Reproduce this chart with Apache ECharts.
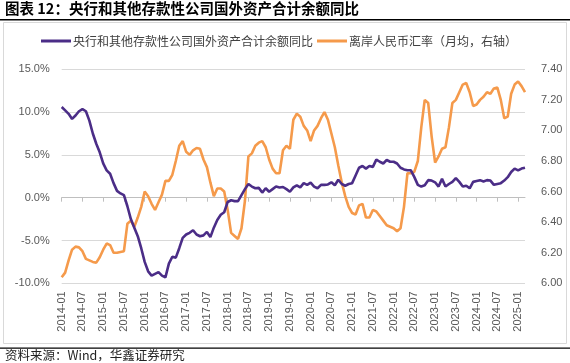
<!DOCTYPE html>
<html>
<head>
<meta charset="utf-8">
<script src="https://cdn.jsdelivr.net/npm/echarts@6/dist/echarts.min.js"></script>
<style>
html,body{margin:0;padding:0;background:#fff;}
#c{width:570px;height:363px;}
</style>
</head>
<body>
<div id="c"></div>
<script>
// Monthly categories 2014-01 .. 2025-03
const categories = [];
for (let y = 2014; y <= 2025; y++) {
  for (let m = 1; m <= 12; m++) {
    if (y === 2025 && m > 3) break;
    categories.push(y + '-' + (m < 10 ? '0' + m : m));
  }
}

// 央行和其他存款性公司国外资产合计余额同比 (%)
const assetsYoY = [
  10.6, 10.2, 9.8, 9.2, 9.6, 10.1, 10.35, 10.1, 9.0, 7.5, 6.3, 5.3,
  4.0, 3.2, 2.8, 1.7, 0.8, 0.5, 0.3, -1.0, -2.5, -3.5, -4.5, -5.9,
  -7.5, -8.6, -9.1, -8.9, -8.7, -9.1, -9.3, -7.7, -6.9, -7.0, -5.9, -4.7,
  -4.3, -4.1, -3.8, -4.3, -4.5, -4.4, -4.0, -4.6, -3.5, -2.6, -2.0, -1.7,
  -0.5, -0.3, -0.4, -0.4, 0.3, 1.0, 1.6, 1.3, 1.1, 1.15, 0.6, 1.1,
  0.7, 1.0, 1.3, 1.2, 1.25, 1.0, 0.7, 1.2, 1.45, 1.2, 1.7, 1.5,
  1.75, 1.3, 1.1, 1.5, 1.5, 1.55, 1.8, 1.45, 2.1, 1.6, 1.4, 1.6,
  1.7, 2.6, 3.5, 3.7, 3.4, 3.7, 3.6, 4.45, 4.2, 4.0, 4.4, 4.2,
  4.2, 4.0, 3.5, 3.3, 3.2, 3.2, 2.4, 1.5, 1.3, 1.45, 2.05, 2.0,
  1.8, 1.3, 2.2, 1.3, 1.6, 1.85, 2.3, 1.85, 1.3, 1.4, 1.1, 1.85,
  1.95, 2.05, 1.9, 2.05, 2.0, 1.5, 1.6, 1.7, 2.0, 2.4, 3.0, 3.4,
  3.2, 3.4, 3.5
];

// 离岸人民币汇率（月均）
const cnhRate = [
  6.04, 6.07, 6.15, 6.22, 6.24, 6.235, 6.21, 6.16, 6.15, 6.14, 6.135, 6.17,
  6.22, 6.26, 6.25, 6.20, 6.20, 6.205, 6.21, 6.39, 6.41, 6.37, 6.43, 6.50,
  6.60, 6.57, 6.52, 6.48, 6.53, 6.58, 6.67, 6.67, 6.71, 6.80, 6.90, 6.93,
  6.86, 6.84, 6.87, 6.885, 6.88, 6.81, 6.76, 6.66, 6.57, 6.62, 6.62, 6.60,
  6.48, 6.33, 6.31, 6.29, 6.36, 6.54, 6.83, 6.85, 6.90, 6.92, 6.93, 6.89,
  6.81, 6.75, 6.72, 6.72, 6.87, 6.90, 6.88, 7.07, 7.11, 7.09, 7.03, 7.00,
  6.93, 7.00, 7.03, 7.08, 7.12, 7.07, 6.98, 6.89, 6.77, 6.66, 6.57, 6.50,
  6.46, 6.45, 6.51, 6.52, 6.43, 6.43, 6.48, 6.47, 6.44, 6.41, 6.38, 6.37,
  6.36, 6.34, 6.36, 6.50, 6.72, 6.72, 6.73, 6.80, 7.02, 7.20, 7.18, 6.96,
  6.79, 6.83, 6.88, 6.89, 7.02, 7.18, 7.20, 7.25, 7.30, 7.31, 7.25, 7.16,
  7.17, 7.20, 7.22, 7.25, 7.24, 7.275, 7.28, 7.20, 7.08, 7.09, 7.24, 7.30,
  7.32, 7.29, 7.25
];

const seriesNames = ['央行和其他存款性公司国外资产合计余额同比', '离岸人民币汇率（月均，右轴）'];
const leftTicks = { min: -10, max: 15, interval: 5 };
const rightTicks = { min: 6.0, max: 7.4, interval: 0.2 };

const chart = echarts.init(document.getElementById('c'), null, { renderer: 'canvas' });
const labelFont = 'Liberation Sans, Arial, sans-serif';
const cjkFont = '"Noto Sans CJK SC", sans-serif';

chart.setOption({
  animation: false,
  backgroundColor: '#ffffff',
  graphic: [
    { type: 'text', left: 5, top: 1, style: { text: '图表 12：央行和其他存款性公司国外资产合计余额同比', font: 'bold 14.5px ' + cjkFont, fill: '#000' } },
    { type: 'rect', shape: { x: 0, y: 19, width: 570, height: 1.6 }, style: { fill: '#000' } },
    { type: 'rect', shape: { x: 3.5, y: 22.5, width: 563, height: 321 }, style: { fill: 'none', stroke: '#D9D9D9', lineWidth: 1 } },
    { type: 'rect', shape: { x: 0, y: 347.5, width: 570, height: 1.3 }, style: { fill: '#000' } },
    { type: 'text', left: 5, top: 349, style: { text: '资料来源：Wind，华鑫证券研究', font: '12.5px ' + cjkFont, fill: '#222' } }
  ],
  legend: {
    top: 30, left: 36,
    itemWidth: 30, itemHeight: 3, itemGap: 4,
    icon: 'rect',
    textStyle: { fontSize: 12, fontFamily: cjkFont, color: '#404040', padding: [0, 0, 0, -3] },
    data: seriesNames
  },
  grid: { left: 61.7, right: 45, top: 69.3, bottom: 79.7, containLabel: false },
  xAxis: [
    {
      type: 'category', data: categories, boundaryGap: false, position: 'bottom',
      axisLine: { show: false, onZero: false }, axisTick: { show: false },
      axisLabel: { interval: 5, rotate: 90, fontSize: 11, fontFamily: labelFont, color: '#595959', margin: 8 },
      splitLine: { show: false }
    },
    {
      type: 'category', data: categories, boundaryGap: false, position: 'bottom',
      axisLine: { show: true, onZero: true, onZeroAxisIndex: 0, lineStyle: { color: '#BFBFBF', width: 1 } },
      axisTick: { show: true, interval: 5, length: 4, inside: false, lineStyle: { color: '#BFBFBF' } },
      axisLabel: { show: false }, splitLine: { show: false }
    }
  ],
  yAxis: [
    {
      type: 'value', min: leftTicks.min, max: leftTicks.max, interval: leftTicks.interval,
      axisLine: { show: false }, axisTick: { show: false },
      axisLabel: { formatter: v => v.toFixed(1) + '%', fontSize: 11, fontFamily: labelFont, color: '#595959', margin: 12 },
      splitLine: { show: true, lineStyle: { color: '#D9D9D9', width: 1 } }
    },
    {
      type: 'value', min: rightTicks.min, max: rightTicks.max, interval: rightTicks.interval,
      axisLine: { show: false }, axisTick: { show: false },
      axisLabel: { formatter: v => v.toFixed(2), fontSize: 11, fontFamily: labelFont, color: '#595959', margin: 16 },
      splitLine: { show: false }
    }
  ],
  series: [
    {
      name: seriesNames[0], type: 'line', data: assetsYoY, xAxisIndex: 0, yAxisIndex: 0,
      symbol: 'none', smooth: false, color: '#4B2D87',
      lineStyle: { width: 2.6, color: '#4B2D87' }, z: 3
    },
    {
      name: seriesNames[1], type: 'line', data: cnhRate, xAxisIndex: 0, yAxisIndex: 1,
      symbol: 'none', smooth: false, color: '#F59A4B',
      lineStyle: { width: 2.6, color: '#F59A4B' }, z: 2
    }
  ]
});
</script>
</body>
</html>
